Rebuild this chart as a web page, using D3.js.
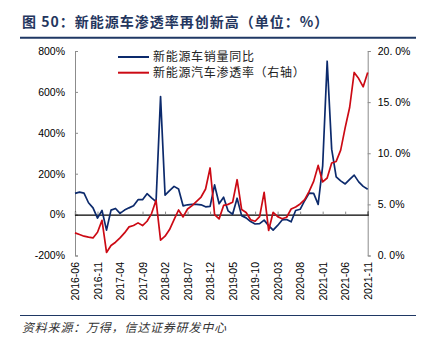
<!DOCTYPE html>
<html>
<head>
<meta charset="utf-8">
<script src="https://cdn.jsdelivr.net/npm/d3@7"></script>
<style>
    body { margin: 0; background: #fff; }
    text { font-family: "Liberation Sans", "Noto Sans CJK SC", sans-serif; }
</style>
</head>
<body>
<div id="output"></div>
<script>
// sales yoy (%) and penetration (%), 2016-06 .. 2021-11
const salesYoy = [104, 110, 105, 58, 33, -17, 20, -76, 22, 30, 6, 22, 33, 43, 73, 73,
    102, 82, 63, 577, 95, 117, 138, 125, 43, 48, 50, 50, 48, 38, 40, 145, 53, 85, 18, 2,
    80, -5, -16, -34, -46, -44, -27, -54, -76, -53, -26, -24, -35, 20, 26, 68, 105, 104,
    50, 238, 750, 320, 185, 165, 150, 172, 193, 160, 138, 124];
const penetration = [2.21, 2.05, 1.89, 1.79, 1.72, 2.27, 3.44, 0.3, 0.98, 1.3, 1.72, 2.21,
    2.8, 2.93, 3.19, 2.93, 3.35, 4.1, 5.4, 1.5, 1.89, 2.54, 3.5, 4.45, 3.77, 4.55, 4.88,
    5.3, 5.72, 6.5, 8.56, 4.0, 3.58, 4.9, 5.0, 5.2, 7.41, 4.5, 4.2, 3.5, 3.35, 3.8, 6.18,
    2.45, 4.23, 3.8, 3.6, 3.74, 4.55, 4.75, 5.04, 5.46, 6.27, 7.25, 8.81, 7.19, 7.58,
    9.04, 9.2, 10.3, 12.5, 14.5, 17.9, 17.3, 16.5, 17.9];
const tickLabels = ["2016-06", "2016-11", "2017-04", "2017-09", "2018-02", "2018-07",
    "2018-12", "2019-05", "2019-10", "2020-03", "2020-08", "2021-01", "2021-06", "2021-11"];
const leftTicks = [-200, 0, 200, 400, 600, 800];
const rightTicks = [0, 5, 10, 15, 20];
const seriesNames = ["新能源车销量同比", "新能源汽车渗透率（右轴）"];

const blue = "#0c2a6c";
const red = "#cc0a14";
const navy = "#1f3864";

// month categories
const months = [];
for (let y = 2016, m = 6; y < 2021 || (y === 2021 && m <= 11); m++) {
    if (m > 12) { m = 1; y++; }
    months.push(y + "-" + String(m).padStart(2, "0"));
}

function draw() {
    document.getElementById('output').innerHTML = '';
    const w = 427, h = 348;
    const svg = d3.select("#output").append("svg").attr("width", w).attr("height", h);

    const x = d3.scalePoint().domain(months).range([75, 367.7]);
    const yL = d3.scaleLinear().domain([-200, 800]).range([255.5, 51]);
    const yR = d3.scaleLinear().domain([0, 20]).range([255.5, 51]);

    // title + rules
    svg.append("text")
        .attr("x", 22)
        .attr("y", 27)
        .style("font-family", "'Noto Sans CJK SC', sans-serif")
        .style("font-size", "14px")
        .style("font-weight", "bold")
        .style("letter-spacing", "1px")
        .style("fill", "#24365e")
        .text("图 50：新能源车渗透率再创新高（单位：%）");
    svg.append("line")
        .attr("x1", 20).attr("x2", 416).attr("y1", 37.7).attr("y2", 37.7)
        .style("stroke", navy).style("stroke-width", 2);
    svg.append("line")
        .attr("x1", 20).attr("x2", 416).attr("y1", 315.5).attr("y2", 315.5)
        .style("stroke", navy).style("stroke-width", 1);
    svg.append("text")
        .attr("x", 22)
        .attr("y", 332)
        .style("font-family", "'Noto Sans CJK SC', sans-serif")
        .style("font-size", "12px")
        .style("font-style", "italic")
        .style("letter-spacing", "0.8px")
        .style("fill", "#333")
        .text("资料来源：万得，信达证券研发中心");

    // left axis
    const gl = svg.append("g")
        .attr("transform", "translate(75,0)")
        .call(d3.axisLeft(yL).tickValues(leftTicks).tickSize(-3).tickPadding(10)
            .tickFormat(d => d + "%"));
    // right axis
    const gr = svg.append("g")
        .attr("transform", "translate(367.7,0)")
        .call(d3.axisRight(yR).tickValues(rightTicks).tickSize(3).tickPadding(7)
            .tickFormat(d => d.toFixed(1).replace(".", ". ") + "%"));
    for (let g of [gl, gr]) {
        g.select(".domain").style("stroke", "#8c8c8c");
        g.selectAll(".tick line").style("stroke", "#8c8c8c");
        g.selectAll("text")
            .style("font-size", "10.5px")
            .style("fill", "#000");
    }

    // zero line with small ticks
    const gz = svg.append("g")
        .attr("transform", "translate(0," + yL(0) + ")")
        .call(d3.axisTop(x).tickValues(tickLabels).tickSize(3).tickFormat(""));
    gz.select(".domain").style("stroke", "#000").style("stroke-width", 1.2);
    gz.selectAll(".tick line").style("stroke", "#8c8c8c");

    // date labels at the bottom
    const gx = svg.append("g")
        .attr("transform", "translate(0,258)")
        .call(d3.axisBottom(x).tickValues(tickLabels).tickSize(0).tickPadding(0));
    gx.select(".domain").remove();
    gx.selectAll("text")
        .style("font-size", "10.5px")
        .style("fill", "#000")
        .style("text-anchor", "end")
        .attr("transform", "rotate(-90)")
        .attr("x", -4)
        .attr("y", 0)
        .attr("dy", "0.35em");

    // lines
    const lineL = d3.line().x((d, i) => x(months[i])).y(d => yL(d));
    const lineR = d3.line().x((d, i) => x(months[i])).y(d => yR(d));
    svg.append("path")
        .datum(salesYoy)
        .attr("d", lineL)
        .style("fill", "none")
        .style("stroke", blue)
        .style("stroke-width", 1.7)
        .style("stroke-linejoin", "round");
    svg.append("path")
        .datum(penetration)
        .attr("d", lineR)
        .style("fill", "none")
        .style("stroke", red)
        .style("stroke-width", 1.7)
        .style("stroke-linejoin", "round");

    // legend
    const colors = [blue, red];
    for (let i in seriesNames) {
        let ly = 57 + i * 15.7;
        svg.append("line")
            .attr("x1", 118).attr("x2", 149).attr("y1", ly).attr("y2", ly)
            .style("stroke", colors[i]).style("stroke-width", 2);
        svg.append("text")
            .attr("x", 153)
            .attr("y", ly + 4.3)
            .style("font-family", "'Noto Sans CJK SC', sans-serif")
            .style("font-size", "12px")
            .style("letter-spacing", "0.7px")
            .style("fill", "#222")
            .text(seriesNames[i]);
    }
}

draw();
</script>
</body>
</html>
